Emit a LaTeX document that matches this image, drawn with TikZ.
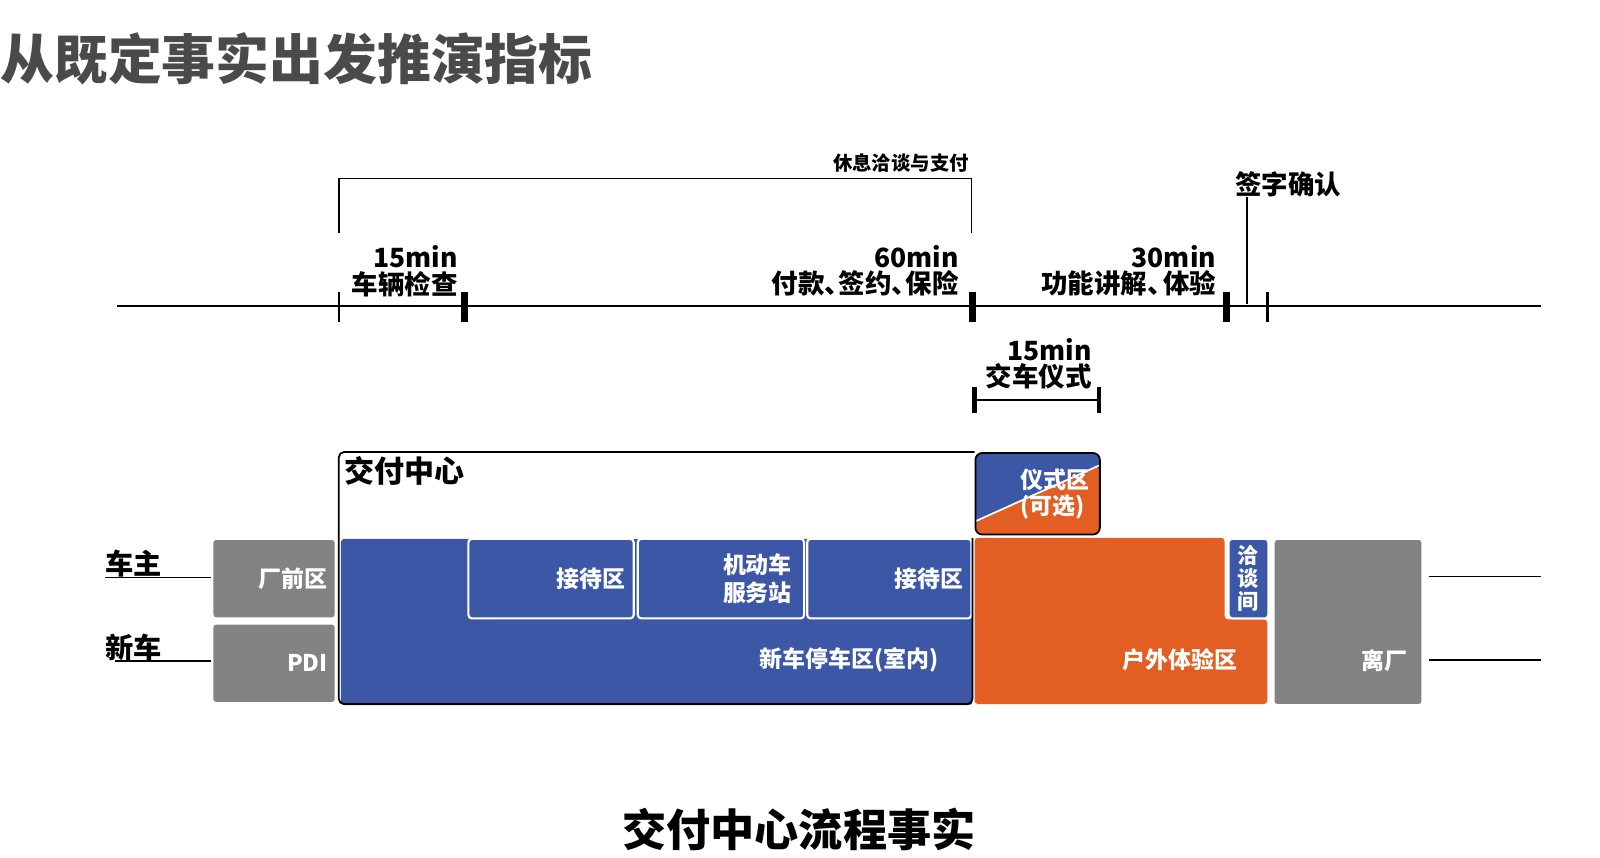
\documentclass[tikz,border=0pt]{standalone}
\usepackage{fontspec}
\setmainfont{Noto Sans CJK SC}
\usepackage{tikz}
\usetikzlibrary{positioning,calc}
\definecolor{zoneblue}{HTML}{3B57A6}
\definecolor{zoneorange}{HTML}{E25E22}
\definecolor{zonegray}{HTML}{838383}
\definecolor{titlegray}{HTML}{4A4A4A}
\def\px{0.578pt}
\newcommand{\setfs}[1]{\fontsize{#1}{#1}\selectfont}

\begin{document}
\begin{tikzpicture}[x=\px,y=-\px,every node/.style={inner sep=0pt,font=\bfseries\setfs{15}},zone/.style={fill=#1,draw=white,line width=1.2pt,rounded corners=2pt,anchor=north west,text=white,align=right,font=\bfseries\fontsize{13}{16}\selectfont},zonetxt/.style={text=white,font=\bfseries\setfs{13},align=right},tmark/.style={fill=black,minimum width=#1*\px,minimum height=30*\px},steplbl/.style={anchor=south east,align=right,font=\bfseries\setfs{15}},rule/.style={line width=1pt}]
\useasboundingbox (0,0) rectangle (1568,840);
\node[anchor=west,font=\bfseries\setfs{30.5},text=titlegray] (title) at (0,58) {从既定事实出发推演指标};
\coordinate (tlstart) at (115,300);
\coordinate (tlend) at (1510,300);
\draw[rule] (tlstart) -- (tlend);
\node[tmark=2.5] (t1) at (332,301) {};
\node[tmark=7] (t2) at (455,301) {};
\node[tmark=7] (t3) at (953,301) {};
\node[tmark=7] (t4) at (1202,301) {};
\node[tmark=2.5] (t5) at (1242,301) {};
\node[steplbl] (check) at (449,291) {15min\\车辆检查};
\node[steplbl] (pay) at (940,291) {60min\\付款、\kern-7pt签约、\kern-7pt保险};
\node[steplbl] (demo) at (1192,291) {30min\\功能讲解、\kern-6pt体验};
\coordinate (brl) at (332,228);
\coordinate (brr) at (952,228);
\draw[rule] (brl) |- (952,175) -- (brr);
\node[anchor=south east,font=\bfseries\setfs{11}] (wait) at (950,169) {休息洽谈与支付};
\node[anchor=south west] (sign) at (1210,193) {签字确认};
\coordinate (signfoot) at (1222,298);
\draw[rule] (signfoot) -- (signfoot |- sign.south);
\node[tmark=4,minimum height=25*\px] (c1) at (955,392) {};
\node[tmark=4,minimum height=25*\px] (c2) at (1077,392) {};
\draw[rule] (c1) -- (c2);
\node[steplbl] (rite lbl) at (1070,382) {15min\\交车仪式};
\node[zone=zonegray,minimum width=121*\px,minimum height=78*\px,text width=105*\px] (front) at (207,527) {厂前区};
\node[zone=zonegray,minimum width=121*\px,minimum height=78*\px,text width=105*\px] (pdi) at (207,610) {PDI};
\node[zone=zoneblue,draw=none,minimum width=619*\px,minimum height=163*\px] (park) at (333,527) {};
\node[zone=zoneblue,minimum width=162*\px,minimum height=78*\px,text width=146*\px] (recep1) at (458,527) {接待区};
\node[zone=zoneblue,minimum width=163*\px,minimum height=78*\px,text width=139*\px] (station) at (624,527) {机动车\\服务站};
\node[zone=zoneblue,minimum width=161*\px,minimum height=78*\px,text width=145*\px] (recep2) at (790,527) {接待区};
\node[zonetxt,anchor=east] (parklbl) at (920,647) {新车停车区(室内)};
\fill[zoneorange,rounded corners=2pt] (955,527) -- (1200,527) -- (1200,607) -- (1242,607) -- (1242,690) -- (955,690) -- cycle;
\node[zone=zoneblue,minimum width=39*\px,minimum height=78*\px,align=center,font=\bfseries\fontsize{12}{13}\selectfont] (talk) at (1203,527) {洽\\谈\\间};
\node[zonetxt,anchor=east] (outlbl) at (1213,647) {户外体验区};
\node[zone=zonegray,minimum width=146*\px,minimum height=163*\px] (exit) at (1247,527) {};
\node[zonetxt,anchor=east] (exitlbl) at (1380,647) {离厂};
\node[anchor=north west,draw=black,line width=1pt,fill=zoneblue,rounded corners=4pt,minimum width=122*\px,minimum height=80*\px,text width=102*\px,text=white,align=right,font=\bfseries\fontsize{13}{15}\selectfont,path picture={\fill[zoneorange] ([yshift=13*\px]path picture bounding box.south west) -- ([yshift=-12*\px]path picture bounding box.north east) -- (path picture bounding box.south east) -- (path picture bounding box.south west) -- cycle;\draw[white,line width=1pt] ([yshift=13*\px]path picture bounding box.south west) -- ([yshift=-12*\px]path picture bounding box.north east);}] (rite) at (955,443) {仪式区\\(可选)\kern3pt};
\draw[rule,rounded corners=3pt] (rite.north west) -- (332,443) -- (332,690) -- (953,690) -- (953,527);
\node[anchor=north west,font=\bfseries\setfs{17}] (center) at (337,447) {交付中心};
\node[anchor=south west,font=\bfseries\setfs{16}] (owner) at (103,566) {车主};
\node[anchor=south west,font=\bfseries\setfs{16}] (newcar) at (103,648) {新车};
\draw[rule] (owner.south west) -- (owner.south west -| front.west);
\draw[rule] ([xshift=10*\px]newcar.south west) -- (newcar.south west -| pdi.west);
\coordinate (ownerend) at (1510,565);
\coordinate (carend) at (1510,647);
\draw[rule] ([xshift=5*\px]exit.east |- ownerend) -- (ownerend);
\draw[rule] ([xshift=5*\px]exit.east |- carend) -- (carend);
\node[font=\bfseries\setfs{25}] (caption) at (783,813) {交付中心流程事实};
\end{tikzpicture}
\end{document}
